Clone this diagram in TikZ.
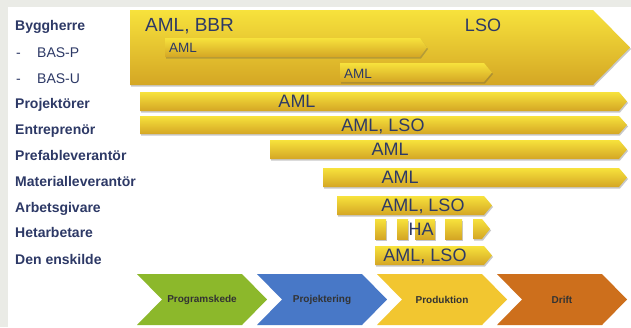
\documentclass[tikz,border=0pt]{standalone}
\usepackage{fontspec}
\setmainfont{Liberation Sans}
\usetikzlibrary{shadows}

\definecolor{navy}{RGB}{45,57,102}
\definecolor{guldljus}{RGB}{247,226,60}
\definecolor{guldmork}{RGB}{212,166,36}
\definecolor{gron}{RGB}{140,184,43}
\definecolor{bla}{RGB}{72,120,199}
\definecolor{gul}{RGB}{242,198,48}
\definecolor{orange}{RGB}{205,111,28}
\definecolor{ram}{RGB}{234,235,230}

% bar with pointed end: x0, y0, x1, y1, tip depth
\newcommand{\balk}[5]{%
  \path[balk] (#1,#2) -- ({#3-#5},#2) -- (#3,{(#2+#4)/2}) -- ({#3-#5},#4) -- (#1,#4) -- cycle;}
% phase chevron: left x, colour
\newcommand{\fasbox}[2]{%
  \path[fill=#2] (#1,274) -- ({#1+105},274) -- ({#1+130},299.5) -- ({#1+105},325)
    -- (#1,325) -- ({#1+25},299.5) -- cycle;}

\begin{document}
\begin{tikzpicture}[
  x=1pt, y=-1pt,
  lbl/.style={anchor=base west,inner sep=0pt,text=navy,font=\bfseries\fontsize{14}{16}\selectfont},
  sublbl/.style={anchor=base west,inner sep=0pt,text=navy,font=\fontsize{14}{16}\selectfont},
  balk/.style={top color=guldljus,bottom color=guldmork,
    drop shadow={shadow xshift=1pt,shadow yshift=-1.5pt,opacity=.3,fill=black!70}},
  balktext/.style={anchor=base,inner sep=0pt,text=navy,font=\fontsize{18}{20}\selectfont},
  smalltext/.style={anchor=base west,inner sep=0pt,text=navy,font=\fontsize{13.5}{15}\selectfont},
  fastext/.style={inner sep=0pt,text=black!80,font=\bfseries\fontsize{10}{12}\selectfont}
]
\useasboundingbox (0,0) rectangle (631,327);
\fill[ram] (0,0) rectangle (631,327);
\fill[white] (8,7) rectangle (631,327);

% actors
\node[lbl] (bygg) at (15,30) {Byggherre};
\node[sublbl] (dashp) at (16,57) {-};
\node[sublbl] (basp) at (37,57) {BAS-P};
\node[sublbl] (dashu) at (16,83) {-};
\node[sublbl] (basu) at (37,83) {BAS-U};
\node[lbl] (proj) at (15,108) {Projektörer};
\node[lbl] (entr) at (15,134.5) {Entreprenör};
\node[lbl] (prefab) at (15,160) {Prefableverantör};
\node[lbl] (mat) at (15,186) {Materialleverantör};
\node[lbl] (arb) at (15,212.5) {Arbetsgivare};
\node[lbl] (het) at (15,237.5) {Hetarbetare};
\node[lbl] (ensk) at (15,264) {Den enskilde};

% responsibility bars
\balk{130}{10}{630}{85}{37}
\balk{165}{38}{427}{57}{7}
\balk{340}{63}{492}{82}{8}
\balk{140}{92}{627}{111}{8}
\balk{140}{116}{627}{134}{8}
\balk{270}{140}{627}{159}{8}
\balk{323}{168}{627}{187}{8}
\balk{337}{196}{492}{215}{8}
\foreach \a/\b in {375/386,397/408,415/435,445/462}
  \path[balk] (\a,219) rectangle (\b,239);
\balk{473}{219}{490}{239}{8}
\balk{375}{246}{492}{265}{8}

\node[balktext,anchor=base west,font=\fontsize{19}{21}\selectfont] (byggt) at (145,31.5) {AML, BBR};
\node[balktext] (byggl) at (483,31.5) {LSO};
\node[smalltext] (baspt) at (169,52) {AML};
\node[smalltext] (basut) at (344,78) {AML};
\node[balktext] (projt) at (297,107.5) {AML};
\node[balktext] (entrt) at (383,131.5) {AML, LSO};
\node[balktext] (prefabt) at (390,155.5) {AML};
\node[balktext] (matt) at (400,183.5) {AML};
\node[balktext] (arbt) at (423,211.5) {AML, LSO};
\node[balktext] (hett) at (421,235.5) {HA};
\node[balktext] (enskt) at (425,261.5) {AML, LSO};

% phases
\fasbox{137}{gron}
\fasbox{257}{bla}
\fasbox{377}{gul}
\fasbox{497}{orange}
\node[fastext] (prog) at (202,299.5) {Programskede};
\node[fastext] (projek) at (322,299.5) {Projektering};
\node[fastext] (prod) at (442,299.5) {Produktion};
\node[fastext] (drift) at (562,299.5) {Drift};
\end{tikzpicture}
\end{document}
